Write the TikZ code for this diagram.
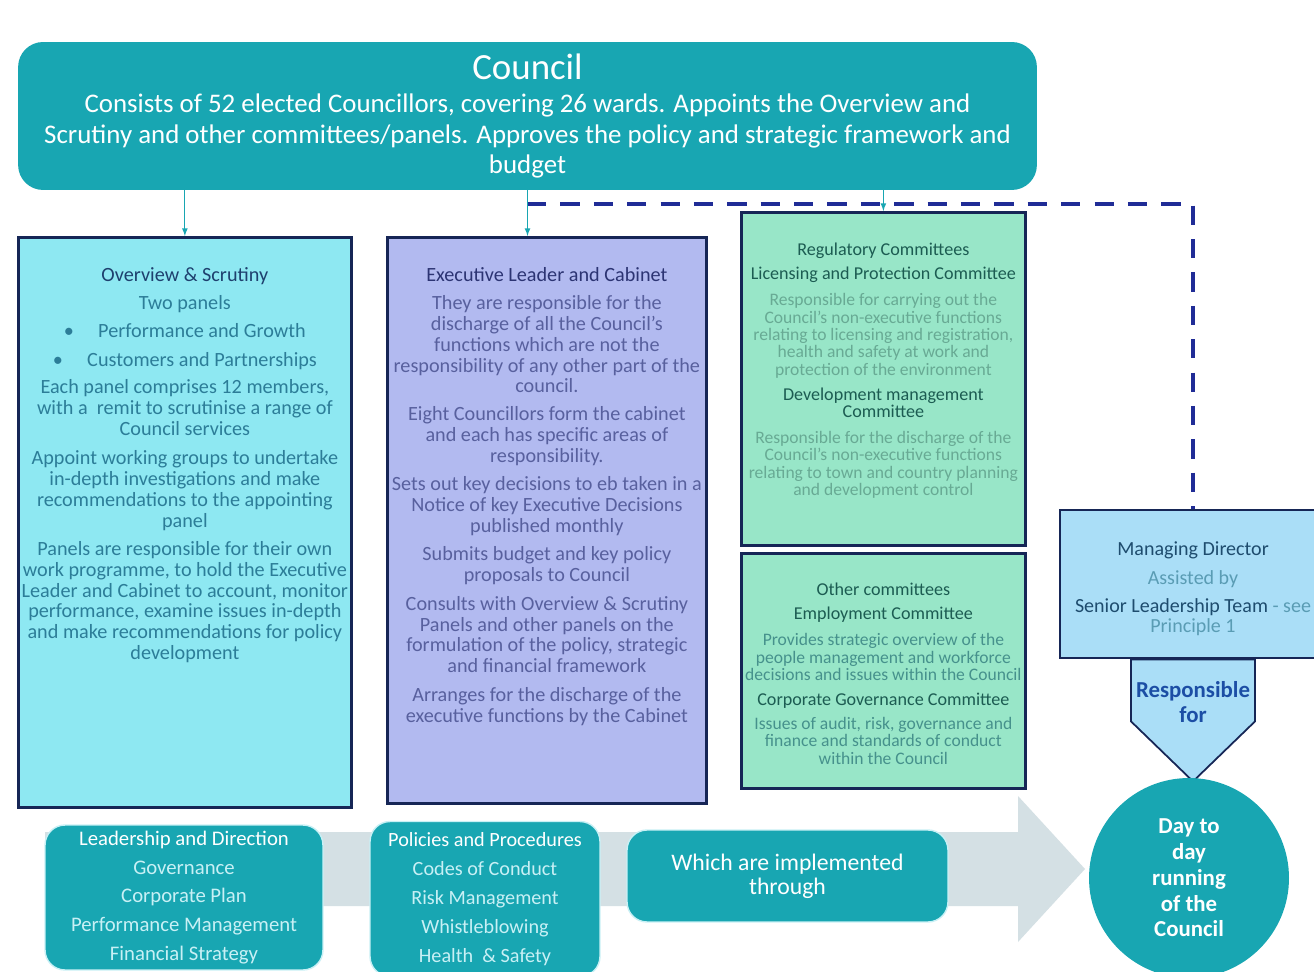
\documentclass[tikz,border=0pt]{standalone}
\usepackage{fontspec}
\setmainfont{Carlito}
\usetikzlibrary{positioning}
\setlength{\lineskiplimit}{-20pt}

\definecolor{councilteal}{RGB}{24,166,178}
\definecolor{scrutinyfill}{RGB}{142,232,242}
\definecolor{cabinetfill}{RGB}{178,186,240}
\definecolor{committeefill}{RGB}{152,230,200}
\definecolor{directorfill}{RGB}{170,222,247}
\definecolor{boxline}{RGB}{22,38,86}
\definecolor{dashblue}{RGB}{32,44,150}
\definecolor{arrowgrey}{RGB}{212,224,228}
\definecolor{scrutinyhead}{RGB}{30,64,110}
\definecolor{scrutinytext}{RGB}{44,125,152}
\definecolor{cabinethead}{RGB}{44,52,115}
\definecolor{cabinettext}{RGB}{88,96,158}
\definecolor{committeehead}{RGB}{28,92,82}
\definecolor{committeetext}{RGB}{104,170,148}
\definecolor{othertext}{RGB}{70,145,140}
\definecolor{directorhead}{RGB}{30,76,110}
\definecolor{directortext}{RGB}{90,156,180}
\definecolor{respblue}{RGB}{28,78,165}
\definecolor{paletext}{RGB}{200,240,245}

\tikzset{
  panel/.style={draw=boxline, line width=1.6pt, anchor=north west, inner sep=0pt},
  councilbox/.style={rectangle, rounded corners=0.5cm, fill=councilteal, inner sep=0pt, text=white, align=center},
  tealbox/.style={rectangle, rounded corners=0.4cm, fill=councilteal, draw=paletext, line width=0.8pt, inner sep=0pt, align=center},
  blocktext/.style={align=center, inner sep=0pt, anchor=north},
  link/.style={draw=councilteal, line width=0.5pt, -latex},
  dashline/.style={draw=dashblue, line width=2.3pt, dash pattern=on 11pt off 8pt},
}

\begin{document}
\begin{tikzpicture}[x=0.02cm,y=-0.02cm]
\useasboundingbox (0,0) rectangle (1314,972);
\clip (0,0) rectangle (1314,972);
\fill[white] (0,0) rectangle (1314,972);

% grey arrow behind the bottom row
\fill[arrowgrey] (45,832) -- (1018,832) -- (1018,796) -- (1085,869) -- (1018,942) -- (1018,906) -- (45,906) -- cycle;

% council
\node[councilbox, minimum width=20.38cm, minimum height=2.96cm,
  font=\fontsize{15.3}{17.6}\selectfont] (council) at (527.5,116)
  {{\fontsize{21}{21}\selectfont Council}\\[1.2pt]
   Consists of 52 elected Councillors, covering 26 wards. Appoints the Overview and\\
   Scrutiny and other committees/panels. Approves the policy and strategic framework and\\
   budget};

% the four panels
\node[panel, fill=scrutinyfill, minimum width=6.66cm, minimum height=11.4cm] (scrutiny) at (17,236) {};
\node[panel, fill=cabinetfill, minimum width=6.38cm, minimum height=11.32cm] (cabinet) at (386,236) {};
\node[panel, fill=committeefill, minimum width=5.68cm, minimum height=6.66cm] (regulatory) at (740,211) {};
\node[panel, fill=committeefill, minimum width=5.68cm, minimum height=4.7cm] (othercom) at (740,552) {};

% dashed line to the managing director
\coordinate (dashstart) at (527,204);
\draw[dashline] (dashstart) -| (1193,510);

% links from council
\draw[link] (council.south -| scrutiny.north) -- (scrutiny.north);
\draw[link] (council.south) -- (council.south |- cabinet.north);
\draw[link] (council.south -| regulatory.north) -- (regulatory.north);

\node[blocktext, text=scrutinytext, font=\fontsize{11.5}{11.9}\selectfont] (scrutinytext)
  at ([yshift=-0.62cm]scrutiny.north)
  {{\color{scrutinyhead}Overview \& Scrutiny}\\[4pt]
   Two panels\\[4pt]
   \textbullet\hspace{1.2em}Performance and Growth\\[4.5pt]
   \textbullet\hspace{1.2em}Customers and Partnerships\\[4pt]
   Each panel comprises 12 members,\\
   with a \ remit to scrutinise a range of\\
   Council services\\[4.5pt]
   Appoint working groups to undertake\\
   in-depth investigations and make\\
   recommendations to the appointing\\
   panel\\[4pt]
   Panels are responsible for their own\\
   work programme, to hold the Executive\\
   Leader and Cabinet to account, monitor\\
   performance, examine issues in-depth\\
   and make recommendations for policy\\
   development};

\node[blocktext, text=cabinettext, font=\fontsize{11.5}{11.9}\selectfont] (cabinettext)
  at ([yshift=-0.62cm]cabinet.north)
  {{\color{cabinethead}Executive Leader and Cabinet}\\[4pt]
   They are responsible for the\\
   discharge of all the Council's\\
   functions which are not the\\
   responsibility of any other part of the\\
   council.\\[4pt]
   Eight Councillors form the cabinet\\
   and each has specific areas of\\
   responsibility.\\[4pt]
   Sets out key decisions to eb taken in a\\
   Notice of key Executive Decisions\\
   published monthly\\[4pt]
   Submits budget and key policy\\
   proposals to Council\\[4.5pt]
   Consults with Overview \& Scrutiny\\
   Panels and other panels on the\\
   formulation of the policy, strategic\\
   and financial framework\\[4.5pt]
   Arranges for the discharge of the\\
   executive functions by the Cabinet};

\node[blocktext, text=committeetext, font=\fontsize{10}{9.9}\selectfont] (regulatorytext)
  at ([yshift=-0.64cm]regulatory.north)
  {{\fontsize{10.3}{9.9}\selectfont\color{committeehead}Regulatory Committees}\\[3.7pt]
   {\fontsize{10.3}{9.9}\selectfont\color{committeehead}Licensing and Protection Committee}\\[4.8pt]
   Responsible for carrying out the\\
   Council's non-executive functions\\
   relating to licensing and registration,\\
   health and safety at work and\\
   protection of the environment\\[4.3pt]
   {\fontsize{10.3}{9.9}\selectfont\color{committeehead}Development management}\\
   {\fontsize{10.3}{9.9}\selectfont\color{committeehead}Committee}\\[4.8pt]
   Responsible for the discharge of the\\
   Council's non-executive functions\\
   relating to town and country planning\\
   and development control};

\node[blocktext, text=othertext, font=\fontsize{10}{9.9}\selectfont] (othertext)
  at ([yshift=-0.62cm]othercom.north)
  {{\fontsize{10.3}{9.9}\selectfont\color{committeehead}Other committees}\\[3.7pt]
   {\fontsize{10.3}{9.9}\selectfont\color{committeehead}Employment Committee}\\[4.8pt]
   Provides strategic overview of the\\
   people management and workforce\\
   decisions and issues within the Council\\[4.3pt]
   {\fontsize{10.3}{9.9}\selectfont\color{committeehead}Corporate Governance Committee}\\[3.7pt]
   Issues of audit, risk, governance and\\
   finance and standards of conduct\\
   within the Council};

% managing director and what it runs
\node[panel, anchor=center, fill=directorfill, minimum width=5.32cm, minimum height=2.96cm] (director) at (1193,584) {};
\node[align=center, inner sep=0pt, text=directortext, font=\fontsize{11.4}{16}\selectfont] (directortext)
  at ([yshift=-0.1cm]director.center)
  {{\color{directorhead}Managing Director}\\[0.4pt]
   Assisted by\\
   {\color{directorhead}Senior Leadership Team} - see\\[-4.7pt]
   Principle 1};
\draw[draw=boxline, line width=1pt, fill=directorfill] (director.south) ++(-62,0) -- ++(124,0)
  -- ++(0,62) -- ++(-62,60) -- ++(-62,-60) -- cycle;
\node[align=center, inner sep=0pt, text=respblue, font=\bfseries\fontsize{13}{14.2}\selectfont] (resptext)
  at ([yshift=-0.85cm]director.south) {Responsible\\for};
\node[circle, fill=councilteal, minimum size=4cm, inner sep=0pt, align=center, text=white,
  font=\bfseries\fontsize{13}{14.7}\selectfont] (running) at (1189,878)
  {Day to\\day\\running\\of the\\Council};

% bottom row
\node[tealbox, minimum width=5.56cm, minimum height=2.9cm, text=paletext,
  font=\fontsize{11.8}{16.4}\selectfont] (leader) at (184,897.5)
  {{\color{white}Leadership and Direction}\\
   Governance\\
   Corporate Plan\\
   Performance Management\\
   Financial Strategy};
\node[tealbox, minimum width=4.6cm, minimum height=3.1cm, text=paletext,
  font=\fontsize{11.5}{16.4}\selectfont] (policies) at (485,899)
  {{\color{white}Policies and Procedures}\\
   Codes of Conduct\\
   Risk Management\\
   Whistleblowing\\
   Health \ \& Safety};
\node[tealbox, minimum width=6.42cm, minimum height=1.84cm, text=white,
  font=\fontsize{13.5}{13.6}\selectfont] (implemented) at (787.5,876)
  {Which are implemented\\through};
\end{tikzpicture}
\end{document}
